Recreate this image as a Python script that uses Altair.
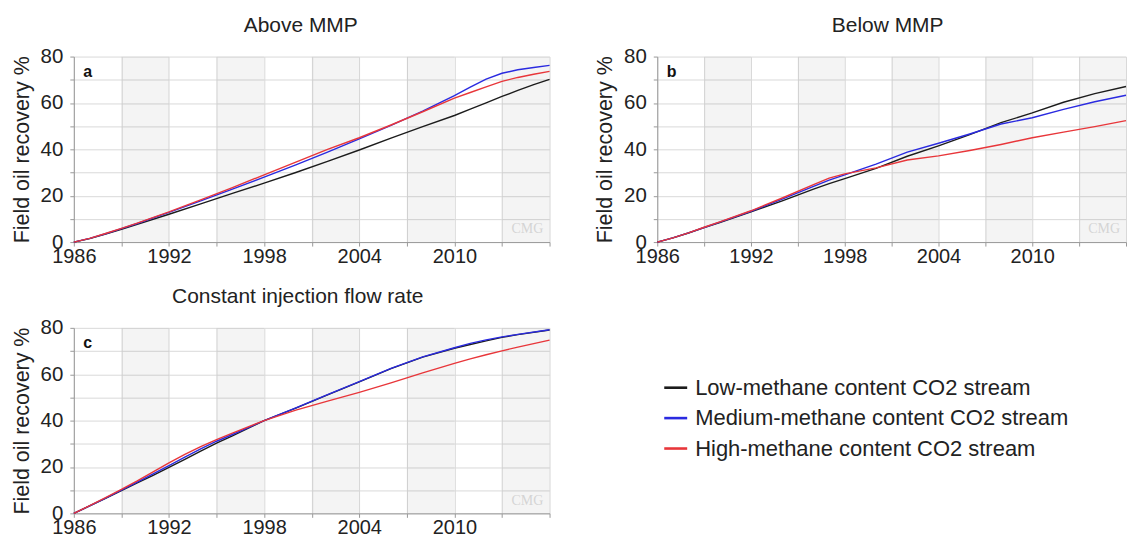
import altair as alt
import pandas as pd

FONT = "Liberation Sans"

series = [
    "Low-methane content CO2 stream",
    "Medium-methane content CO2 stream",
    "High-methane content CO2 stream",
]
colors = ["#1c1c1c", "#2a2ae0", "#e8363a"]

# Panel a - Above MMP
a_years = [1986, 1987, 1988, 1989, 1990, 1992, 1994, 1996, 1998, 2000, 2002, 2004,
           2006, 2008, 2010, 2011, 2012, 2013, 2014, 2015, 2016]
a_low = [0, 1.5, 3.4, 5.5, 7.6, 12.0, 16.5, 21.0, 25.4, 30.0, 34.8, 39.7,
         44.8, 49.8, 54.6, 57.3, 60.0, 62.8, 65.4, 67.9, 70.2]
a_med = [0, 1.6, 3.6, 5.8, 8.0, 12.8, 17.8, 22.8, 28.0, 33.3, 38.8, 44.5,
         50.3, 56.5, 63.2, 66.8, 70.3, 72.8, 74.3, 75.3, 76.2]
a_high = [0, 1.6, 3.7, 5.9, 8.2, 13.0, 18.2, 23.5, 29.0, 34.5, 40.0, 45.0,
          50.5, 56.2, 62.1, 64.5, 66.9, 69.3, 71.0, 72.4, 73.6]

# Panel b - Below MMP
b_years = [1986, 1987, 1988, 1989, 1990, 1992, 1994, 1996, 1997, 1998, 2000, 2002,
           2004, 2006, 2008, 2010, 2012, 2014, 2016]
b_low = [0, 1.8, 3.9, 6.2, 8.4, 13.0, 17.8, 22.8, 25.2, 27.4, 31.8, 37.0,
         41.5, 46.3, 51.5, 55.7, 60.3, 64.0, 67.1]
b_med = [0, 1.8, 4.0, 6.3, 8.6, 13.3, 18.5, 24.0, 26.7, 29.0, 33.6, 38.8,
         42.6, 46.6, 50.9, 53.6, 57.2, 60.5, 63.3]
b_high = [0, 1.8, 4.0, 6.4, 8.7, 13.5, 19.0, 24.8, 27.6, 29.4, 32.0, 35.4,
          37.2, 39.5, 42.1, 45.0, 47.4, 49.8, 52.4]

# Panel c - Constant injection flow rate
c_years = [1986, 1987, 1988, 1989, 1990, 1991, 1992, 1993, 1994, 1995, 1996, 1998,
           2000, 2002, 2004, 2006, 2008, 2010, 2011, 2012, 2013, 2014, 2016]
c_low = [0, 3.2, 6.5, 9.8, 13.1, 16.4, 19.8, 23.3, 26.8, 30.3, 33.4, 40.0,
         45.4, 51.1, 56.7, 62.4, 67.4, 71.2, 72.8, 74.4, 75.9, 77.1, 79.1]
c_med = [0, 3.2, 6.6, 10.0, 13.5, 17.0, 20.6, 24.2, 27.8, 31.1, 34.0, 40.0,
         45.5, 51.2, 56.8, 62.5, 67.5, 71.4, 73.3, 74.8, 76.1, 77.2, 79.2]
c_high = [0, 3.3, 6.8, 10.3, 14.0, 17.9, 21.8, 25.4, 28.8, 31.8, 34.6, 40.0,
          44.5, 48.4, 52.2, 56.3, 60.6, 64.7, 66.6, 68.4, 70.1, 71.7, 74.7]

band_starts = [1989, 1995, 2001, 2007, 2013]
band_ends = [1992, 1998, 2004, 2010, 2016]
x_ticks = list(range(1986, 2017, 3))
y_ticks = list(range(0, 81, 10))

PH = 186

xscale = alt.Scale(domain=[1986, 2016], nice=False, zero=False)
yscale = alt.Scale(domain=[0, 80], nice=False, zero=True)

xaxis = alt.Axis(
    values=x_ticks,
    labelExpr="(datum.value - 1986) % 6 == 0 && datum.value < 2016 ? datum.value : ''",
    title=None, grid=True, gridColor="#d9d9d9", domainColor="#9a9a9a",
    tickColor="#9a9a9a", tickSize=4, labelFontSize=20, labelFont=FONT,
    labelColor="#222", labelPadding=0, labelOverlap=False, labelFlush=False,
)
yaxis = alt.Axis(
    values=y_ticks,
    labelExpr="datum.value % 20 == 0 ? datum.value : ''",
    title="Field oil recovery %", titleFontSize=21.5, titleFont=FONT,
    titleFontWeight="normal", titleColor="#222", titlePadding=7,
    grid=True, gridColor="#d9d9d9", domainColor="#9a9a9a", tickColor="#9a9a9a",
    tickSize=4, labelFontSize=20.5, labelFont=FONT, labelColor="#222",
    labelPadding=7, labelOverlap=False, labelFlush=False,
)

band_df = pd.DataFrame({"start": band_starts, "end": band_ends})


def make_panel(years, low, med, high, title, letter, dx, width):
    rows = []
    for s, vals in zip(series, [low, med, high]):
        for yr, v in zip(years, vals):
            rows.append({"year": yr, "value": v, "series": s})
    df = pd.DataFrame(rows)

    bands = alt.Chart(band_df).mark_rect(color="#000000", opacity=0.045).encode(
        x=alt.X("start:Q", scale=xscale, axis=xaxis),
        x2="end:Q",
        y=alt.value(0),
        y2=alt.value(PH),
    )
    lines = alt.Chart(df).mark_line(strokeWidth=1.4).encode(
        x=alt.X("year:Q", scale=xscale, axis=xaxis),
        y=alt.Y("value:Q", scale=yscale, axis=yaxis),
        color=alt.Color("series:N", scale=alt.Scale(domain=series, range=colors), legend=None),
        order="year:Q",
    )
    lab = alt.Chart(pd.DataFrame({"t": [letter]})).mark_text(
        fontWeight="bold", fontSize=16, font=FONT, align="left", baseline="middle", color="#111"
    ).encode(
        x=alt.XDatum(1986.6, scale=xscale, axis=xaxis),
        y=alt.YDatum(73.5, scale=yscale, axis=yaxis),
        text="t:N",
    )
    wm = alt.Chart(pd.DataFrame({"t": ["CMG"]})).mark_text(
        fontSize=14, font="Liberation Serif", align="center", baseline="middle", color="#d4d4d4"
    ).encode(
        x=alt.XDatum(2014.6, scale=xscale, axis=xaxis),
        y=alt.YDatum(5.5, scale=yscale, axis=yaxis),
        text="t:N",
    )
    return alt.layer(bands, lines, lab, wm).properties(
        width=width, height=PH,
        title=alt.TitleParams(title, fontSize=21, font=FONT, fontWeight="normal",
                              color="#222", anchor="middle", dx=dx, offset=11),
    )


pa = make_panel(a_years, a_low, a_med, a_high, "Above MMP", "a", -11, 477)
pb = make_panel(b_years, b_low, b_med, b_high, "Below MMP", "b", -4, 470)
pc = make_panel(c_years, c_low, c_med, c_high, "Constant injection flow rate", "c", -14, 477)

leg_df = pd.DataFrame({"series": series})
leg_y = alt.Y("series:N", sort=series, axis=None,
              scale=alt.Scale(type="point", domain=series, range=[60, 121], padding=0))
leg_color = alt.Color("series:N", scale=alt.Scale(domain=series, range=colors), legend=None)
leg_lines = alt.Chart(leg_df).mark_rule(strokeWidth=2.6).encode(
    x=alt.value(0), x2=alt.value(23), y=leg_y, color=leg_color
)
leg_text = alt.Chart(leg_df).mark_text(
    align="left", baseline="middle", fontSize=22, font=FONT, color="#222"
).encode(x=alt.value(31), y=leg_y, text="series:N")
legend = alt.layer(leg_lines, leg_text).properties(width=420, height=PH)

row1 = alt.hconcat(pa, pb, spacing=42)
row2 = alt.hconcat(pc, legend, spacing=110)

chart = alt.vconcat(row1, row2, spacing=20).properties(
    padding={"left": 3, "top": 6, "right": 0, "bottom": -4}
).configure(
    background="white", view=alt.ViewConfig(stroke="transparent", strokeWidth=0)
)

chart.save("out.html", embed_options={"renderer": "svg", "actions": False})
